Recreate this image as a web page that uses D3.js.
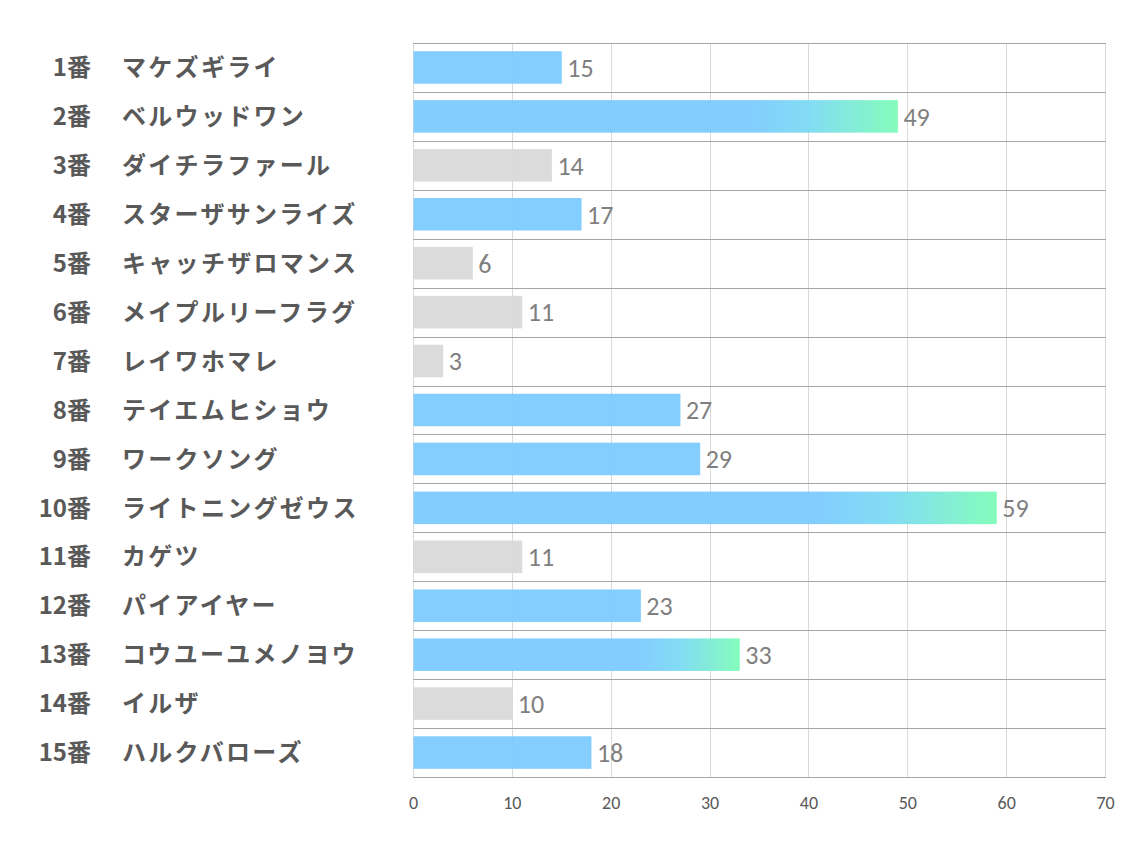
<!DOCTYPE html>
<html lang="ja">
<head>
<meta charset="utf-8">
<script src="https://cdn.jsdelivr.net/npm/d3@7"></script>
<style>
  html, body { margin: 0; padding: 0; background: #fff; }
  svg { display: block; }
</style>
</head>
<body>
<div id="chart"></div>
<script>
// horizontal bar chart, one row per horse
const numbers = ["1番", "2番", "3番", "4番", "5番", "6番", "7番", "8番",
                 "9番", "10番", "11番", "12番", "13番", "14番", "15番"];
const names = ["マケズギライ", "ベルウッドワン", "ダイチラファール", "スターザサンライズ",
               "キャッチザロマンス", "メイプルリーフラグ", "レイワホマレ", "テイエムヒショウ",
               "ワークソング", "ライトニングゼウス", "カゲツ", "パイアイヤー",
               "コウユーユメノヨウ", "イルザ", "ハルクバローズ"];
const values = [15, 49, 14, 17, 6, 11, 3, 27, 29, 59, 11, 23, 33, 10, 18];
// "blue", "grad" or "gray"
const kinds = ["blue", "grad", "gray", "blue", "gray", "gray", "gray", "blue",
               "blue", "grad", "gray", "blue", "grad", "gray", "blue"];
const xTicks = [0, 10, 20, 30, 40, 50, 60, 70];

const W = 1134, H = 850;
const plot = { left: 413, right: 1105, top: 43, bottom: 777 };

const COLORS = {
  blue:  "#7ccbfe",
  green: "#7efcb8",
  gray:  "#d9d9d9",
  row:   "#a6a6a6",
  grid:  "#d9d9d9",
  label: "#595959",
  value: "#7f7f7f",
};

const svg = d3.select("#chart").append("svg")
  .attr("width", W).attr("height", H);

const x = d3.scaleLinear().domain([0, 70]).range([plot.left, plot.right]);
const y = d3.scaleBand().domain(d3.range(values.length))
  .range([plot.top, plot.bottom]).paddingInner(0.335).paddingOuter(0.1675);

const step = y.step();

// gradient: solid blue for the first ~70% of the bar, then fade to green
const defs = svg.append("defs");
const grad = defs.append("linearGradient")
  .attr("id", "barGrad")
  .attr("x1", "0").attr("x2", "1").attr("y1", "0").attr("y2", "0");
grad.append("stop").attr("offset", "0.7").attr("stop-color", COLORS.blue);
grad.append("stop").attr("offset", "0.82").attr("stop-color", "#7cdbf2");
grad.append("stop").attr("offset", "1").attr("stop-color", COLORS.green);

// vertical grid
svg.append("g").selectAll("line")
  .data(xTicks)
  .join("line")
  .attr("x1", d => Math.round(x(d)) + 0.5).attr("x2", d => Math.round(x(d)) + 0.5)
  .attr("y1", plot.top).attr("y2", plot.bottom)
  .attr("stroke", COLORS.grid)
  .attr("stroke-width", 1);

// bars
svg.append("g").selectAll("rect")
  .data(values)
  .join("rect")
  .attr("x", x(0) + 0.5)
  .attr("y", (d, i) => y(i))
  .attr("width", d => x(d) - x(0))
  .attr("height", y.bandwidth())
  .attr("fill", (d, i) => kinds[i] === "grad" ? "url(#barGrad)"
                         : kinds[i] === "gray" ? COLORS.gray : COLORS.blue)
  .attr("fill-opacity", 0.95);

// row separators
const rowEdges = d3.range(values.length + 1).map(i => plot.top + i * step);
svg.append("g").selectAll("line")
  .data(rowEdges)
  .join("line")
  .attr("x1", plot.left).attr("x2", plot.right + 1)
  .attr("y1", d => Math.round(d) + 0.5).attr("y2", d => Math.round(d) + 0.5)
  .attr("stroke", COLORS.row)
  .attr("stroke-width", 1);

// value labels
svg.append("g").selectAll("text")
  .data(values)
  .join("text")
  .attr("x", d => x(d) + 6)
  .attr("y", (d, i) => y(i) + y.bandwidth() / 2)
  .attr("dy", "0.36em")
  .attr("fill", COLORS.value)
  .attr("font-size", "26px")
  .attr("font-family", "Carlito, Lato, 'Open Sans', sans-serif")
  .text(d => d);

// row labels: number right-aligned, name left-aligned
const labels = svg.append("g")
  .attr("font-family", "'Noto Sans CJK JP', sans-serif")
  .attr("font-weight", "bold")
  .attr("font-size", "24px")
  .attr("fill", COLORS.label);

labels.selectAll("text.num")
  .data(numbers)
  .join("text")
  .attr("class", "num")
  .attr("x", 91)
  .attr("y", (d, i) => y(i) + y.bandwidth() / 2)
  .attr("dy", "0.36em")
  .attr("text-anchor", "end")
  .text(d => d);

labels.selectAll("text.name")
  .data(names)
  .join("text")
  .attr("class", "name")
  .attr("x", 122)
  .attr("y", (d, i) => y(i) + y.bandwidth() / 2)
  .attr("dy", "0.36em")
  .attr("letter-spacing", "2.3px")
  .text(d => d);

// x axis tick labels
const axis = svg.append("g")
  .attr("transform", `translate(0,${plot.bottom})`)
  .call(d3.axisBottom(x).tickValues(xTicks).tickSize(0).tickPadding(19));
axis.select(".domain").remove();
axis.selectAll("text")
  .attr("fill", COLORS.label)
  .attr("font-size", "18px")
  .attr("font-family", "Carlito, Lato, 'Open Sans', sans-serif");
</script>
</body>
</html>
